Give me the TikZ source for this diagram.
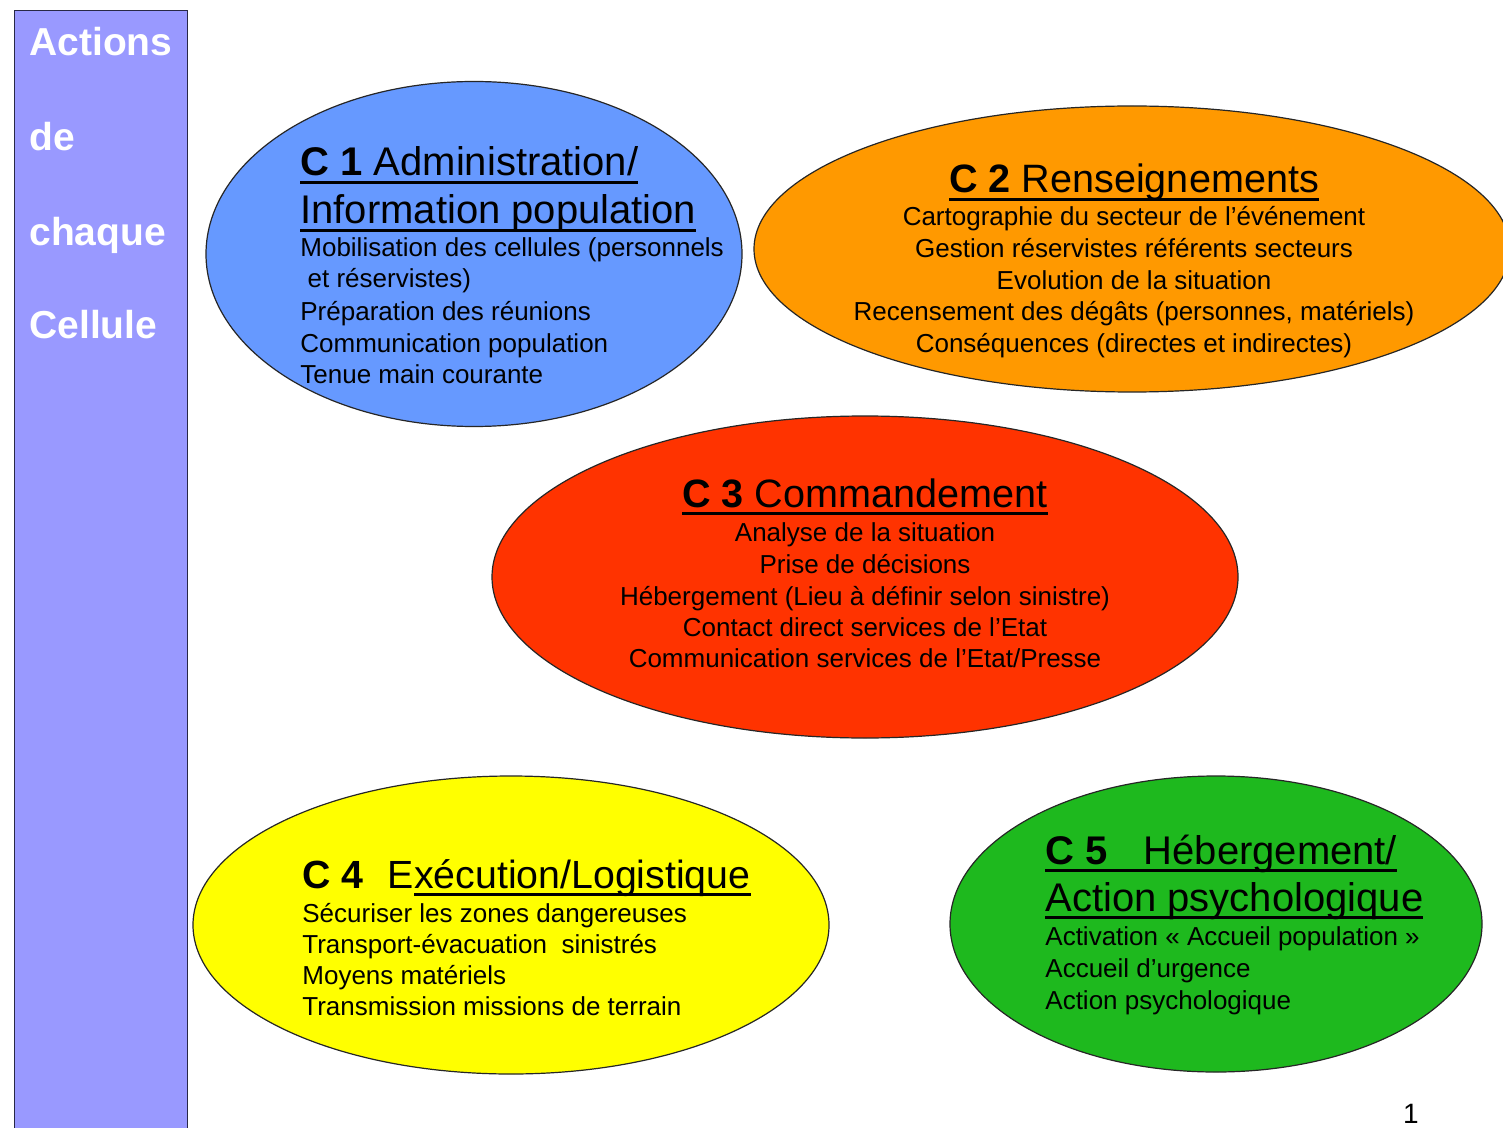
\documentclass[tikz,border=0pt]{standalone}
\usepackage{fontspec}
\setmainfont{Liberation Sans}
\usetikzlibrary{shapes.geometric}
\definecolor{barfill}{RGB}{153,153,255}
\definecolor{barline}{RGB}{40,40,70}
\definecolor{cblue}{RGB}{102,153,255}
\definecolor{corange}{RGB}{255,153,0}
\definecolor{cred}{RGB}{255,51,0}
\definecolor{cyellow}{RGB}{255,255,0}
\definecolor{cgreen}{RGB}{30,185,30}
\newcommand\ulx[1]{\setbox0\hbox{#1}\rlap{\rule[-0.2em]{\wd0}{0.07em}}\box0}
\begin{document}
\begin{tikzpicture}[x=0.5pt,y=-0.5pt,
  cell/.style={ellipse, draw=black!85, line width=0.6pt, inner sep=0},
  ttl/.style={inner sep=0, text=black, font=\fontsize{20}{24}\selectfont},
  ttlc/.style={inner sep=0, text=black, font=\fontsize{19.8}{24}\selectfont},
  ttld/.style={inner sep=0, text=black, font=\fontsize{19.65}{24}\selectfont},
  bdy/.style={inner sep=0, text=black, font=\fontsize{13}{15.75}\selectfont},
  bartxt/.style={inner sep=0, text=white, anchor=base west, font=\fontsize{19.5}{23}\bfseries\selectfont}]
\useasboundingbox (0,0) rectangle (1503,1128);
\fill[white] (0,0) rectangle (1503,1128);
% left bar
\node[draw=barline, fill=barfill, line width=0.6pt, inner sep=0, anchor=north west,
      minimum width=86.5pt, minimum height=570pt] (bar) at (14,10) {};
\node[bartxt] (w1) at (29,56) {Actions};
\node[bartxt] (w2) at (29,151) {de};
\node[bartxt] (w3) at (29,246) {chaque};
\node[bartxt] (w4) at (29,339) {Cellule};
% ellipses
\node[cell, fill=cblue,   minimum width=268pt, minimum height=172.5pt] (c1) at (474,254) {};
\node[cell, fill=corange, minimum width=378pt, minimum height=143pt]   (c2) at (1132,249) {};
\node[cell, fill=cred,    minimum width=373pt, minimum height=161pt]   (c3) at (865,577) {};
\node[cell, fill=cyellow, minimum width=318pt, minimum height=149pt]   (c4) at (511,925) {};
\node[cell, fill=cgreen,  minimum width=266pt, minimum height=148pt]   (c5) at (1216,924) {};
% C1 text
\node[ttl, anchor=base west] (c1a) at (300,176) {\ulx{\textbf{C 1} Administration/}};
\node[ttl, anchor=base west] (c1b) at (300,224) {\ulx{Information population}};
\node[bdy, anchor=base west] (c1c) at (300,257) {Mobilisation des cellules (personnels};
\node[bdy, anchor=base west] (c1d) at (300,288) {\hspace{0.28em}et réservistes)};
\node[bdy, anchor=base west] (c1e) at (300,321) {Préparation des réunions};
\node[bdy, anchor=base west] (c1f) at (300,352) {Communication population};
\node[bdy, anchor=base west] (c1g) at (300,384) {Tenue main courante};
% C2 text
\node[ttlc, anchor=base] (c2a) at (1134,193) {\ulx{\textbf{C 2} Renseignements}};
\node[bdy, anchor=base] (c2b) at (1134,226) {Cartographie du secteur de l’événement};
\node[bdy, anchor=base] (c2c) at (1134,258) {Gestion réservistes référents secteurs};
\node[bdy, anchor=base] (c2d) at (1134,290) {Evolution de la situation};
\node[bdy, anchor=base] (c2e) at (1134,321) {Recensement des dégâts (personnes, matériels)};
\node[bdy, anchor=base] (c2f) at (1134,352) {Conséquences (directes et indirectes)};
% C3 text
\node[ttlc, anchor=base] (c3a) at (865,507) {\ulx{\textbf{C 3} Commandement}};
\node[bdy, anchor=base] (c3b) at (865,541) {Analyse de la situation};
\node[bdy, anchor=base] (c3c) at (865,573) {Prise de décisions};
\node[bdy, anchor=base] (c3d) at (865,605) {Hébergement (Lieu à définir selon sinistre)};
\node[bdy, anchor=base] (c3e) at (865,636) {Contact direct services de l’Etat};
\node[bdy, anchor=base] (c3f) at (865,667) {Communication services de l’Etat/Presse};
% C4 text
\node[ttld, anchor=base west] (c4a) at (302,888) {\textbf{C 4}\hspace{0.62em}E\ulx{xécution/Logistique}};
\node[bdy, anchor=base west] (c4b) at (302,922) {Sécuriser les zones dangereuses};
\node[bdy, anchor=base west] (c4c) at (302,953) {Transport-évacuation\hspace{0.56em}sinistrés};
\node[bdy, anchor=base west] (c4d) at (302,984) {Moyens matériels};
\node[bdy, anchor=base west] (c4e) at (302,1015) {Transmission missions de terrain};
% C5 text
\node[ttl, anchor=base west] (c5a) at (1045,864) {\ulx{\textbf{C 5}\hspace{0.9em}Hébergement/}};
\node[ttl, anchor=base west] (c5b) at (1045,911) {\ulx{Action psychologique}};
\node[bdy, anchor=base west] (c5c) at (1045,945) {Activation « Accueil population »};
\node[bdy, anchor=base west] (c5d) at (1045,977) {Accueil d’urgence};
\node[bdy, anchor=base west] (c5e) at (1045,1009) {Action psychologique};
% page number
\node[inner sep=0, anchor=base, font=\fontsize{14}{16}\selectfont] (pg) at (1411,1123) {1};
\end{tikzpicture}
\end{document}
